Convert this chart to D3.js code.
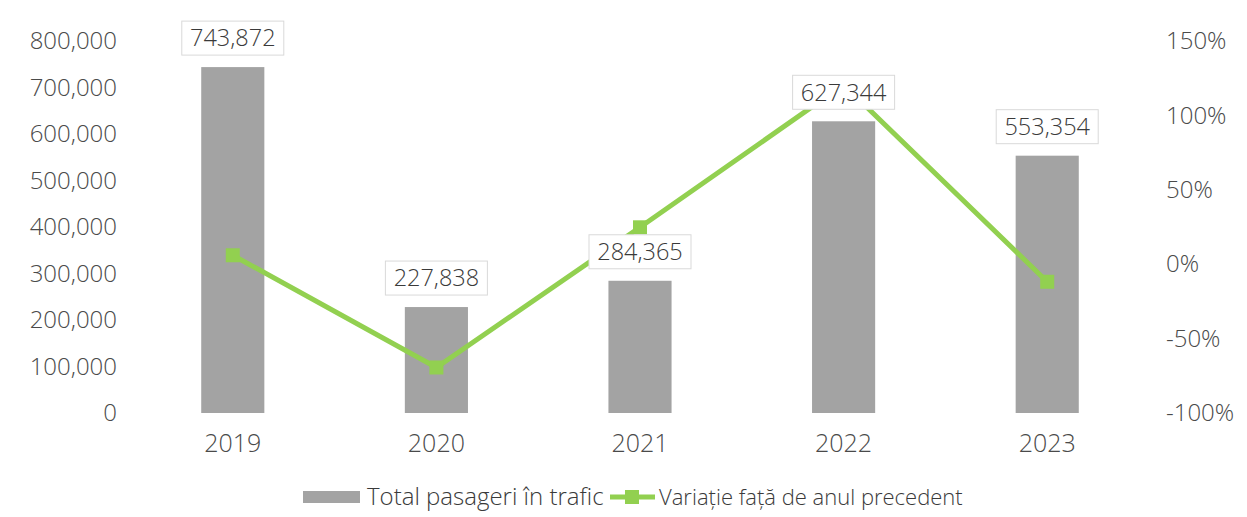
<!DOCTYPE html>
<html lang="en">
	<head>
		<meta charset="utf-8">
		<title>Pasageri in trafic</title>
		<script type="text/javascript" src="https://cdn.jsdelivr.net/npm/d3@7"></script>
		<style type="text/css">
			body { margin: 0; background: #fff; }
			text { font-family: "Open Sans", sans-serif; font-weight: 300; fill: #3a3a3a; }
		</style>
	</head>
	<body>
		<script type="text/javascript">

			//Data
			let years = ["2019", "2020", "2021", "2022", "2023"];
			let passengers = [743872, 227838, 284365, 627344, 553354];
			let variation = [6, -69.4, 24.8, 120.6, -11.8];
			let leftTicks = [0, 100000, 200000, 300000, 400000, 500000, 600000, 700000, 800000];
			let rightTicks = [-100, -50, 0, 50, 100, 150];

			//Width and height
			let w = 1247;
			let h = 517;
			let plotTop = 41, plotBottom = 413, plotLeft = 132, plotRight = 1148;

			let svg = d3.select("body")
						.append("svg")
						  .attr("width", w)
						  .attr("height", h);

			let x = d3.scaleBand()
						.domain(years)
						.range([plotLeft, plotRight])
						.paddingInner(0.69)
						.paddingOuter(0.34);

			let y = d3.scaleLinear().domain([0, 800000]).range([plotBottom, plotTop]);
			let y2 = d3.scaleLinear().domain([-100, 150]).range([plotBottom, plotTop]);

			let fmt = d3.format(",");

			//Left axis
			let la = svg.append("g")
						.attr("transform", `translate(${plotLeft - 15},0)`)
						.call(d3.axisLeft(y).tickValues(leftTicks).tickSize(0).tickPadding(0).tickFormat(fmt));
			la.select(".domain").remove();
			la.selectAll("text").style("font-size", "24px").style("fill", "#4a4a4a");

			//Right axis
			let ra = svg.append("g")
						.attr("transform", `translate(${plotRight + 18},0)`)
						.call(d3.axisRight(y2).tickValues(rightTicks).tickSize(0).tickPadding(0).tickFormat(d => d + "%"));
			ra.select(".domain").remove();
			ra.selectAll("text").style("font-size", "24px").style("fill", "#4a4a4a");

			//X axis
			let xa = svg.append("g")
						.attr("transform", `translate(0,${plotBottom + 21})`)
						.call(d3.axisBottom(x).tickSize(0).tickPadding(0));
			xa.select(".domain").remove();
			xa.selectAll("text").style("font-size", "25px").style("fill", "#4a4a4a");

			//Bars
			svg.selectAll("rect.bar")
				.data(passengers)
				.enter()
			  .append("rect")
				.attr("class", "bar")
				.attr("x", (d, i) => x(years[i]))
				.attr("y", d => y(d))
				.attr("width", x.bandwidth())
				.attr("height", d => plotBottom - y(d))
				.style("fill", "#a3a3a3");

			//Line
			let line = d3.line()
						.x((d, i) => x(years[i]) + x.bandwidth() / 2)
						.y(d => y2(d));

			svg.append("path")
				.datum(variation)
				.attr("d", line)
				.style("fill", "none")
				.style("stroke", "#92d050")
				.style("stroke-width", 5);

			svg.selectAll("rect.marker")
				.data(variation)
				.enter()
			  .append("rect")
				.attr("class", "marker")
				.attr("x", (d, i) => x(years[i]) + x.bandwidth() / 2 - 7)
				.attr("y", d => y2(d) - 7)
				.attr("width", 14)
				.attr("height", 14)
				.style("fill", "#92d050");

			//Value labels
			let labels = svg.selectAll("g.lbl")
				.data(passengers)
				.enter()
			  .append("g")
				.attr("class", "lbl")
				.attr("transform", (d, i) => `translate(${x(years[i]) + x.bandwidth() / 2},${y(d) - 29})`);

			labels.append("rect")
				.attr("x", -51)
				.attr("y", -17)
				.attr("width", 102)
				.attr("height", 34)
				.style("fill", "#fff")
				.style("stroke", "#d9d9d9")
				.style("stroke-width", 1);

			labels.append("text")
				.attr("text-anchor", "middle")
				.attr("dy", "0.35em")
				.style("font-size", "23.5px")
				.text(d => fmt(d));

			//Legend
			let lg = svg.append("g").attr("transform", "translate(0,497)");
			lg.append("rect")
				.attr("x", 303).attr("y", -6).attr("width", 57).attr("height", 12)
				.style("fill", "#a3a3a3");
			lg.append("text")
				.attr("x", 367).attr("dy", "0.35em")
				.style("font-size", "24px")
				.text("Total pasageri în trafic");
			lg.append("line")
				.attr("x1", 610).attr("x2", 655)
				.style("stroke", "#92d050").style("stroke-width", 5);
			lg.append("rect")
				.attr("x", 625).attr("y", -7).attr("width", 14).attr("height", 14)
				.style("fill", "#92d050");
			lg.append("text")
				.attr("x", 659).attr("dy", "0.35em")
				.style("font-size", "22px")
				.text("Variație față de anul precedent");

		</script>
	</body>
</html>
